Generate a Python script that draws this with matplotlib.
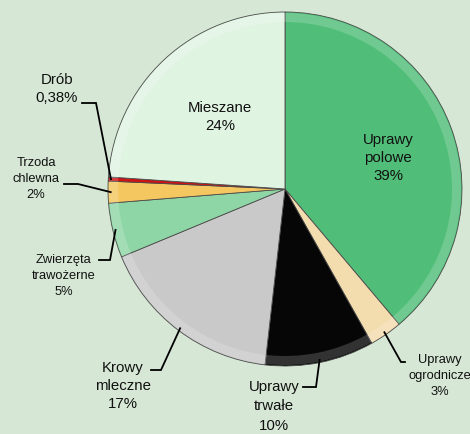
import numpy as np
import matplotlib.pyplot as plt
from matplotlib.patches import Wedge

plt.rcParams['font.family'] = ['Liberation Sans', 'DejaVu Sans']

labels = ['Uprawy\npolowe', 'Uprawy\nogrodnicze', 'Uprawy\ntrwałe', 'Krowy\nmleczne',
          'Zwierzęta\ntrawożerne', 'Trzoda\nchlewna', 'Drób', 'Mieszane']
values = [39, 3, 10, 17, 5, 2, 0.38, 24]
pct_text = ['39%', '3%', '10%', '17%', '5%', '2%', '0,38%', '24%']
colors = ['#50be78', '#f3dcae', '#060606', '#c9c9c9', '#8fd6a6', '#f5c760', '#cc1414', '#e0f4e2']

W, H = 470, 434
bg = '#d6e8d5'
fig = plt.figure(figsize=(W / 100, H / 100), dpi=100, facecolor=bg)
ax = fig.add_axes([0, 0, 1, 1])

cx, cy, r = 285, H - 189, 177
wedges, _ = ax.pie(values, colors=colors, startangle=90, counterclock=False,
                   center=(cx, cy), radius=r, frame=True,
                   wedgeprops=dict(edgecolor='#4a4a4a', linewidth=0.6))
# soft highlight rim for the bevel look
for w in wedges:
    ax.add_patch(Wedge((cx, cy), r - 1, w.theta1, w.theta2, width=9,
                       facecolor='white', alpha=0.18, lw=0))
ax.set_xlim(0, W)
ax.set_ylim(0, H)
ax.set_aspect('equal')
ax.axis('off')

# inner labels
ax.text(388, H - 158, labels[0] + '\n' + pct_text[0], ha='center', va='center',
        fontsize=10.8, linespacing=1.35, color='#111111')
ax.text(220, H - 117, labels[7] + '\n' + pct_text[7], ha='center', va='center',
        fontsize=10.8, linespacing=1.35, color='#111111')

# outer labels: (index, text x, text y, elbow start, elbow end, fontsize, spacing)
outer = [
    (1, 440, 376, (405, 362), (401, 362), 9.3, 1.4),
    (2, 274, 406, (303, 387), (316, 387), 10.8, 1.5),
    (3, 123, 386, (151, 370), (161, 370), 10.8, 1.4),
    (4, 64, 276, (99, 260), (110, 260), 9.3, 1.4),
    (5, 36, 179, (64, 184), (78, 184), 9.3, 1.4),
    (6, 57, 89, (82, 103), (96, 103), 10.8, 1.4),
]
total = sum(values)
cum = np.cumsum([0] + values)
for i, tx, ty, p0, p1, fs, ls in outer:
    mid = (cum[i] + cum[i + 1]) / 2 / total
    ang = np.deg2rad(90 - mid * 360)
    ex, ey = cx + 0.985 * r * np.cos(ang), cy + 0.985 * r * np.sin(ang)
    ax.plot([p0[0], p1[0], ex], [H - p0[1], H - p1[1], ey], color='black', lw=1.3,
            solid_joinstyle='miter')
    ax.text(tx, H - ty, labels[i] + '\n' + pct_text[i], ha='center', va='center',
            fontsize=fs, linespacing=ls, color='#111111')

fig.savefig('out.png', dpi=100, facecolor=bg)
